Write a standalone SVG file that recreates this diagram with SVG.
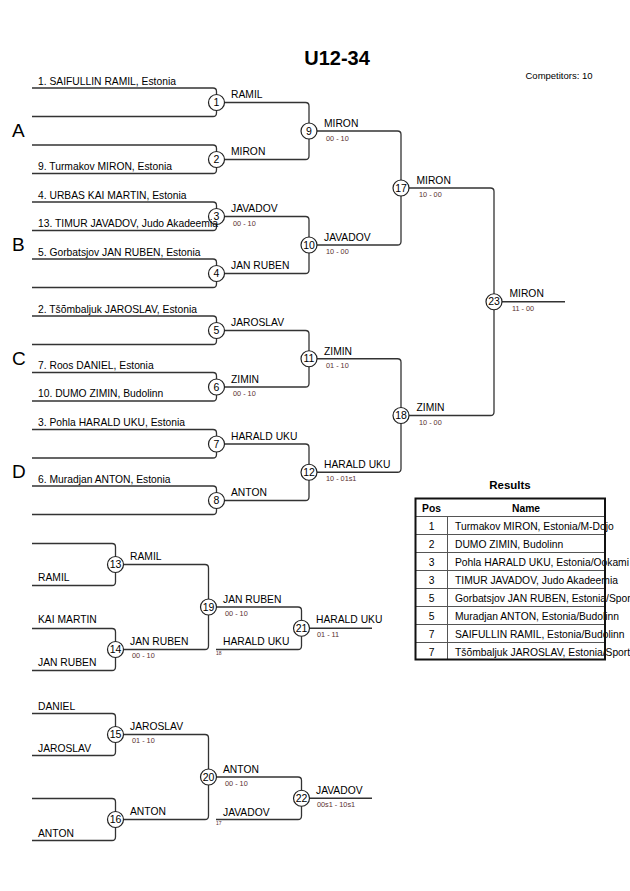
<svg xmlns="http://www.w3.org/2000/svg" width="630" height="891" viewBox="0 0 630 891">
<style>
text{font-family:"Liberation Sans",Arial,sans-serif;fill:#000}
.nm{font-size:10.3px}
.sc{font-size:7.3px;fill:#5a3030}
.tiny{font-size:5px;fill:#5a3030}
.num{font-size:10.5px;text-anchor:middle}
.grp{font-size:19px}
.ln{fill:none;stroke:#333;stroke-width:1.3}
.cir{fill:#fff;stroke:#222;stroke-width:1.2}
.th{font-size:10.3px;font-weight:bold;text-anchor:middle}
.pos{font-size:10.3px;text-anchor:middle}
</style>
<rect width="630" height="891" fill="#fff"/>
<text x="337" y="65" style="font-size:20px;font-weight:bold" text-anchor="middle">U12-34</text>
<text x="525.5" y="79" style="font-size:9.5px">Competitors: 10</text>
<g id="groups">
<text class="grp" x="12" y="137">A</text>
<text class="grp" x="12" y="251">B</text>
<text class="grp" x="12" y="365">C</text>
<text class="grp" x="12" y="478">D</text>
</g>
<g id="connectors">
<path class="ln" d="M32,88 H213 Q216.5,88 216.5,91.5 V113 Q216.5,116.5 213,116.5 H32"/>
<path class="ln" d="M32,145 H213 Q216.5,145 216.5,148.5 V170 Q216.5,173.5 213,173.5 H32"/>
<path class="ln" d="M32,202 H213 Q216.5,202 216.5,205.5 V227 Q216.5,230.5 213,230.5 H32"/>
<path class="ln" d="M32,259 H213 Q216.5,259 216.5,262.5 V284 Q216.5,287.5 213,287.5 H32"/>
<path class="ln" d="M32,316 H213 Q216.5,316 216.5,319.5 V341 Q216.5,344.5 213,344.5 H32"/>
<path class="ln" d="M32,372.5 H213 Q216.5,372.5 216.5,376 V397.5 Q216.5,401 213,401 H32"/>
<path class="ln" d="M32,429.5 H213 Q216.5,429.5 216.5,433 V454.5 Q216.5,458 213,458 H32"/>
<path class="ln" d="M32,486 H213 Q216.5,486 216.5,489.5 V511 Q216.5,514.5 213,514.5 H32"/>
<path class="ln" d="M216.5,102.5 H305.5 Q309,102.5 309,106 V156 Q309,159.5 305.5,159.5 H216.5"/>
<path class="ln" d="M216.5,216.5 H305.5 Q309,216.5 309,220 V270 Q309,273.5 305.5,273.5 H216.5"/>
<path class="ln" d="M216.5,330.5 H305.5 Q309,330.5 309,334 V383.5 Q309,387 305.5,387 H216.5"/>
<path class="ln" d="M216.5,444 H305.5 Q309,444 309,447.5 V497 Q309,500.5 305.5,500.5 H216.5"/>
<path class="ln" d="M309,131 H397.5 Q401,131 401,134.5 V241.5 Q401,245 397.5,245 H309"/>
<path class="ln" d="M309,358.75 H397.5 Q401,358.75 401,362.25 V468.75 Q401,472.25 397.5,472.25 H309"/>
<path class="ln" d="M401,188 H490.5 Q494,188 494,191.5 V412 Q494,415.5 490.5,415.5 H401"/>
<path class="ln" d="M494,301.75 H565"/>
<path class="ln" d="M32,543.5 H112 Q115.5,543.5 115.5,547 V582 Q115.5,585.5 112,585.5 H32"/>
<path class="ln" d="M32,628.5 H112 Q115.5,628.5 115.5,632 V667 Q115.5,670.5 112,670.5 H32"/>
<path class="ln" d="M32,713.5 H112 Q115.5,713.5 115.5,717 V752 Q115.5,755.5 112,755.5 H32"/>
<path class="ln" d="M32,798.5 H112 Q115.5,798.5 115.5,802 V837 Q115.5,840.5 112,840.5 H32"/>
<path class="ln" d="M115.5,564.5 H205 Q208.5,564.5 208.5,568 V646 Q208.5,649.5 205,649.5 H115.5"/>
<path class="ln" d="M115.5,734.5 H205 Q208.5,734.5 208.5,738 V816 Q208.5,819.5 205,819.5 H115.5"/>
<path class="ln" d="M208.5,607 H298 Q301.5,607 301.5,610.5 V646 Q301.5,649.5 298,649.5 H216"/>
<path class="ln" d="M208.5,777 H298 Q301.5,777 301.5,780.5 V816 Q301.5,819.5 298,819.5 H216"/>
<path class="ln" d="M301.5,628.25 H372"/>
<path class="ln" d="M301.5,798.25 H372"/>
</g>
<g id="m1"><circle class="cir" cx="216.5" cy="102.5" r="8"/><text class="num" x="216.5" y="106.2">1</text><text class="nm" x="231" y="98">RAMIL</text></g>
<g id="m2"><circle class="cir" cx="216.5" cy="159.5" r="8"/><text class="num" x="216.5" y="163.2">2</text><text class="nm" x="231" y="155">MIRON</text></g>
<g id="m3"><circle class="cir" cx="216.5" cy="216.5" r="8"/><text class="num" x="216.5" y="220.2">3</text><text class="nm" x="231" y="212">JAVADOV</text><text class="sc" x="233" y="225.5">00 - 10</text></g>
<g id="m4"><circle class="cir" cx="216.5" cy="273.5" r="8"/><text class="num" x="216.5" y="277.2">4</text><text class="nm" x="231" y="269">JAN RUBEN</text></g>
<g id="m5"><circle class="cir" cx="216.5" cy="330.5" r="8"/><text class="num" x="216.5" y="334.2">5</text><text class="nm" x="231" y="326">JAROSLAV</text></g>
<g id="m6"><circle class="cir" cx="216.5" cy="387" r="8"/><text class="num" x="216.5" y="390.7">6</text><text class="nm" x="231" y="382.5">ZIMIN</text><text class="sc" x="233" y="396">00 - 10</text></g>
<g id="m7"><circle class="cir" cx="216.5" cy="444" r="8"/><text class="num" x="216.5" y="447.7">7</text><text class="nm" x="231" y="439.5">HARALD UKU</text></g>
<g id="m8"><circle class="cir" cx="216.5" cy="500.5" r="8"/><text class="num" x="216.5" y="504.2">8</text><text class="nm" x="231" y="496">ANTON</text></g>
<g id="m9"><circle class="cir" cx="309" cy="131" r="8"/><text class="num" x="309" y="134.7">9</text><text class="nm" x="324" y="127">MIRON</text><text class="sc" x="326" y="140.5">00 - 10</text></g>
<g id="m10"><circle class="cir" cx="309" cy="245" r="8"/><text class="num" x="309" y="248.7">10</text><text class="nm" x="324" y="240.5">JAVADOV</text><text class="sc" x="326" y="254">10 - 00</text></g>
<g id="m11"><circle class="cir" cx="309" cy="358.75" r="8"/><text class="num" x="309" y="362.45">11</text><text class="nm" x="324" y="354.5">ZIMIN</text><text class="sc" x="326" y="368">01 - 10</text></g>
<g id="m12"><circle class="cir" cx="309" cy="472.25" r="8"/><text class="num" x="309" y="475.95">12</text><text class="nm" x="324" y="467.5">HARALD UKU</text><text class="sc" x="326" y="481">10 - 01s1</text></g>
<g id="m17"><circle class="cir" cx="401" cy="188" r="8"/><text class="num" x="401" y="191.7">17</text><text class="nm" x="416.5" y="183.5">MIRON</text><text class="sc" x="419" y="197">10 - 00</text></g>
<g id="m18"><circle class="cir" cx="401" cy="415.5" r="8"/><text class="num" x="401" y="419.2">18</text><text class="nm" x="416.5" y="411">ZIMIN</text><text class="sc" x="419" y="424.5">10 - 00</text></g>
<g id="m23"><circle class="cir" cx="494" cy="301.75" r="8"/><text class="num" x="494" y="305.45">23</text><text class="nm" x="509.5" y="297">MIRON</text><text class="sc" x="512" y="310.5">11 - 00</text></g>
<g id="m13"><circle class="cir" cx="115.5" cy="564.5" r="8"/><text class="num" x="115.5" y="568.2">13</text><text class="nm" x="130" y="560">RAMIL</text></g>
<g id="m14"><circle class="cir" cx="115.5" cy="649.5" r="8"/><text class="num" x="115.5" y="653.2">14</text><text class="nm" x="130" y="645">JAN RUBEN</text><text class="sc" x="132" y="658">00 - 10</text></g>
<g id="m15"><circle class="cir" cx="115.5" cy="734.5" r="8"/><text class="num" x="115.5" y="738.2">15</text><text class="nm" x="130" y="730">JAROSLAV</text><text class="sc" x="132" y="743">01 - 10</text></g>
<g id="m16"><circle class="cir" cx="115.5" cy="819.5" r="8"/><text class="num" x="115.5" y="823.2">16</text><text class="nm" x="130" y="815">ANTON</text></g>
<g id="m19"><circle class="cir" cx="208.5" cy="607" r="8"/><text class="num" x="208.5" y="610.7">19</text><text class="nm" x="223" y="602.5">JAN RUBEN</text><text class="sc" x="225" y="615.5">00 - 10</text></g>
<g id="m20"><circle class="cir" cx="208.5" cy="777" r="8"/><text class="num" x="208.5" y="780.7">20</text><text class="nm" x="223" y="772.5">ANTON</text><text class="sc" x="225" y="785.5">00 - 10</text></g>
<g id="m21"><circle class="cir" cx="301.5" cy="628.25" r="8"/><text class="num" x="301.5" y="631.95">21</text><text class="nm" x="223" y="645">HARALD UKU</text><text class="tiny" x="216" y="655">18</text><text class="nm" x="316" y="623">HARALD UKU</text><text class="sc" x="317" y="636.5">01 - 11</text></g>
<g id="m22"><circle class="cir" cx="301.5" cy="798.25" r="8"/><text class="num" x="301.5" y="801.95">22</text><text class="nm" x="223" y="815.5">JAVADOV</text><text class="tiny" x="216" y="825">17</text><text class="nm" x="316" y="793.5">JAVADOV</text><text class="sc" x="317" y="806.5">00s1 - 10s1</text></g>
<g id="entries">
<text class="nm" x="38" y="84.5">1. SAIFULLIN RAMIL, Estonia</text>
<text class="nm" x="38" y="169.5">9. Turmakov MIRON, Estonia</text>
<text class="nm" x="38" y="198.5">4. URBAS KAI MARTIN, Estonia</text>
<text class="nm" x="38" y="226.5">13. TIMUR JAVADOV, Judo Akadeemia</text>
<text class="nm" x="38" y="255.5">5. Gorbatsjov JAN RUBEN, Estonia</text>
<text class="nm" x="38" y="312.5">2. Tšõmbaljuk JAROSLAV, Estonia</text>
<text class="nm" x="38" y="369">7. Roos DANIEL, Estonia</text>
<text class="nm" x="38" y="397">10. DUMO ZIMIN, Budolinn</text>
<text class="nm" x="38" y="426">3. Pohla HARALD UKU, Estonia</text>
<text class="nm" x="38" y="482.5">6. Muradjan ANTON, Estonia</text>
<text class="nm" x="38" y="581">RAMIL</text>
<text class="nm" x="38" y="623">KAI MARTIN</text>
<text class="nm" x="38" y="666">JAN RUBEN</text>
<text class="nm" x="38" y="709.5">DANIEL</text>
<text class="nm" x="38" y="751.5">JAROSLAV</text>
<text class="nm" x="38" y="836.5">ANTON</text>
</g>
<g id="results">
<text x="510" y="489" style="font-size:11.5px;font-weight:bold" text-anchor="middle">Results</text>
<text class="th" x="431.5" y="512">Pos</text>
<text class="th" x="526" y="512">Name</text>
<text class="pos" x="431.5" y="530">1</text><text class="nm" x="455" y="530">Turmakov MIRON, Estonia/M-Dojo</text>
<text class="pos" x="431.5" y="548">2</text><text class="nm" x="455" y="548">DUMO ZIMIN, Budolinn</text>
<text class="pos" x="431.5" y="566">3</text><text class="nm" x="455" y="566">Pohla HARALD UKU, Estonia/Ookami</text>
<text class="pos" x="431.5" y="584">3</text><text class="nm" x="455" y="584">TIMUR JAVADOV, Judo Akadeemia</text>
<text class="pos" x="431.5" y="602">5</text><text class="nm" x="455" y="602">Gorbatsjov JAN RUBEN, Estonia/Sport</text>
<text class="pos" x="431.5" y="620">5</text><text class="nm" x="455" y="620">Muradjan ANTON, Estonia/Budolinn</text>
<text class="pos" x="431.5" y="638">7</text><text class="nm" x="455" y="638">SAIFULLIN RAMIL, Estonia/Budolinn</text>
<text class="pos" x="431.5" y="656">7</text><text class="nm" x="455" y="656">Tšõmbaljuk JAROSLAV, Estonia/Sport</text>
<g fill="none" stroke="#555" stroke-width="1">
<path d="M415.5,516.5 H605 M415.5,534.5 H605 M415.5,552.5 H605 M415.5,570.5 H605 M415.5,588.5 H605 M415.5,606.5 H605 M415.5,624.5 H605 M415.5,642.5 H605 M447.5,516.5 V659.5"/>
</g>
<rect x="415.5" y="498.5" width="189.5" height="161" fill="none" stroke="#111" stroke-width="2"/>
</g>
</svg>
